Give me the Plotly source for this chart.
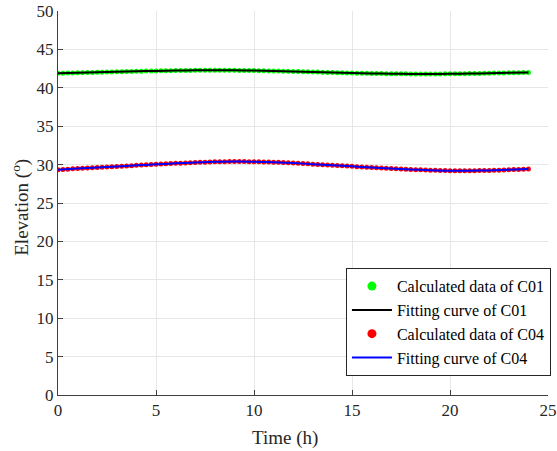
import plotly.graph_objects as go

# Calculated data, sampled every 0.25 h
t_calc = [i * 0.25 for i in range(97)]
c01_calc = [
    41.88, 41.898, 41.915, 41.933, 41.95, 41.968, 41.985, 42.003,
    42.02, 42.038, 42.055, 42.073, 42.09, 42.105, 42.12, 42.135,
    42.15, 42.163, 42.175, 42.188, 42.20, 42.21, 42.22, 42.23,
    42.24, 42.248, 42.255, 42.263, 42.27, 42.273, 42.276, 42.278,
    42.28, 42.278, 42.276, 42.273, 42.27, 42.263, 42.255, 42.248,
    42.24, 42.228, 42.215, 42.203, 42.19, 42.175, 42.16, 42.145,
    42.13, 42.113, 42.095, 42.078, 42.06, 42.043, 42.025, 42.008,
    41.99, 41.973, 41.955, 41.938, 41.92, 41.908, 41.895, 41.883,
    41.87, 41.86, 41.85, 41.84, 41.83, 41.825, 41.82, 41.815,
    41.81, 41.808, 41.805, 41.803, 41.80, 41.805, 41.81, 41.815,
    41.82, 41.828, 41.835, 41.843, 41.85, 41.863, 41.875, 41.888,
    41.90, 41.913, 41.925, 41.938, 41.95, 41.963, 41.975, 41.988,
    42.00,
]
c04_calc = [
    29.34, 29.375, 29.41, 29.445, 29.48, 29.515, 29.55, 29.585,
    29.62, 29.655, 29.69, 29.725, 29.76, 29.795, 29.83, 29.865,
    29.90, 29.933, 29.965, 29.998, 30.03, 30.063, 30.095, 30.128,
    30.16, 30.19, 30.22, 30.25, 30.28, 30.30, 30.32, 30.34,
    30.36, 30.37, 30.38, 30.39, 30.40, 30.397, 30.392, 30.386,
    30.38, 30.367, 30.352, 30.336, 30.32, 30.29, 30.26, 30.23,
    30.20, 30.165, 30.13, 30.095, 30.06, 30.025, 29.99, 29.955,
    29.92, 29.883, 29.845, 29.808, 29.77, 29.733, 29.695, 29.658,
    29.62, 29.585, 29.55, 29.515, 29.48, 29.45, 29.42, 29.39,
    29.36, 29.338, 29.315, 29.293, 29.27, 29.255, 29.24, 29.225,
    29.21, 29.207, 29.205, 29.202, 29.20, 29.21, 29.22, 29.23,
    29.24, 29.26, 29.28, 29.30, 29.32, 29.348, 29.375, 29.403,
    29.43,
]

# Fitting curves, hourly
t_fit = list(range(25))
c01_fit = [41.88, 41.95, 42.02, 42.09, 42.15, 42.20, 42.24, 42.27, 42.28,
           42.27, 42.24, 42.19, 42.13, 42.06, 41.99, 41.92, 41.87, 41.83,
           41.81, 41.80, 41.82, 41.85, 41.90, 41.95, 42.00]
c04_fit = [29.34, 29.48, 29.62, 29.76, 29.90, 30.03, 30.16, 30.28, 30.36,
           30.40, 30.38, 30.32, 30.20, 30.06, 29.92, 29.77, 29.62, 29.48,
           29.36, 29.27, 29.21, 29.20, 29.24, 29.32, 29.43]

x_ticks = [0, 5, 10, 15, 20, 25]
y_ticks = [0, 5, 10, 15, 20, 25, 30, 35, 40, 45, 50]

FONT = "Liberation Serif"

fig = go.Figure()
# data traces (legend entries drawn by legend-only twins with larger markers)
fig.add_trace(go.Scatter(x=t_calc, y=c01_calc, mode="markers", showlegend=False,
                         marker=dict(color="#00ff00", size=5, line=dict(width=0)),
                         name="Calculated data of C01"))
fig.add_trace(go.Scatter(x=[None], y=[None], mode="markers", legendrank=1,
                         marker=dict(color="#00ff00", size=9, line=dict(width=0)),
                         name="Calculated data of C01"))
fig.add_trace(go.Scatter(x=t_fit, y=c01_fit, mode="lines", line_shape="spline",
                         line=dict(color="black", width=2), legendrank=2,
                         name="Fitting curve of C01"))
fig.add_trace(go.Scatter(x=t_calc, y=c04_calc, mode="markers", showlegend=False,
                         marker=dict(color="#ff0000", size=5, line=dict(width=0)),
                         name="Calculated data of C04"))
fig.add_trace(go.Scatter(x=[None], y=[None], mode="markers", legendrank=3,
                         marker=dict(color="#ff0000", size=9, line=dict(width=0)),
                         name="Calculated data of C04"))
fig.add_trace(go.Scatter(x=t_fit, y=c04_fit, mode="lines", line_shape="spline",
                         line=dict(color="#0000ff", width=2), legendrank=4,
                         name="Fitting curve of C04"))

axis_common = dict(
    showgrid=True, gridcolor="#e6e6e6", gridwidth=1,
    showline=True, linecolor="#404040", linewidth=1,
    ticks="inside", ticklen=5, tickcolor="#404040",
    tickfont=dict(family=FONT, size=17, color="#262626"),
    zeroline=False, automargin=False,
)

fig.update_xaxes(range=[0, 25], tickvals=x_ticks, **axis_common)
fig.update_yaxes(range=[0, 50], tickvals=y_ticks, **axis_common)

fig.add_annotation(text="Time (h)", xref="paper", yref="paper",
                   x=0.464, y=-0.112, xanchor="center", yanchor="middle",
                   showarrow=False, font=dict(family=FONT, size=19, color="#262626"))
fig.add_annotation(text="Elevation (<sup>o</sup>)", xref="paper", yref="paper",
                   x=-0.0757, y=0.49, xanchor="center", yanchor="middle",
                   textangle=-90, showarrow=False,
                   font=dict(family=FONT, size=19, color="#262626"))

fig.update_layout(
    width=557, height=451,
    margin=dict(l=58, r=9, t=11, b=56, autoexpand=False),
    paper_bgcolor="white", plot_bgcolor="white",
    font=dict(family=FONT, color="#262626"),
    legend=dict(x=1.006, y=0.049, xanchor="right", yanchor="bottom",
                bgcolor="white", bordercolor="#262626", borderwidth=1,
                font=dict(family=FONT, size=16, color="#000000"),
                tracegroupgap=0, itemwidth=40),
    showlegend=True,
)

fig.write_html("out.html", config={"displayModeBar": False},
               post_script="document.body.style.margin='0';")
